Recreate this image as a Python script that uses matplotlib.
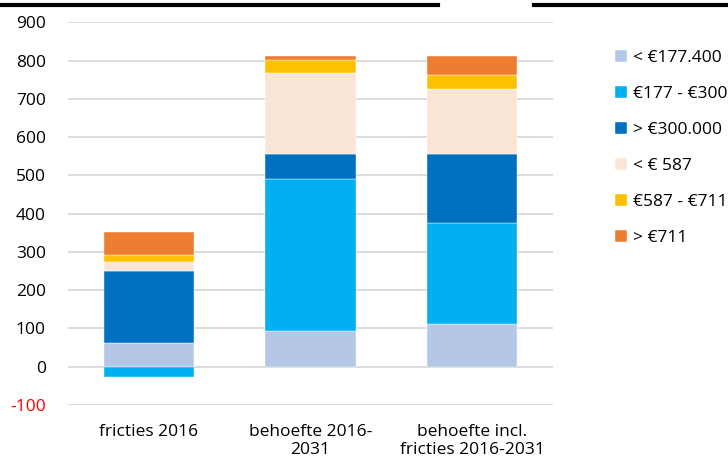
import matplotlib.pyplot as plt
from matplotlib.lines import Line2D
import numpy as np

plt.rcParams['font.family'] = ['Open Sans', 'DejaVu Sans']

categories = ['fricties 2016', 'behoefte 2016-\n2031', 'behoefte incl.\nfricties 2016-2031']
series_names = ['< €177.400', '€177 - €300', '> €300.000', '< € 587', '€587 - €711', '> €711']
lichtblauw = [63, 93, 112]
cyaan = [-26, 397, 263]
donkerblauw = [188, 65, 182]
perzik = [22, 213, 168]
geel = [20, 34, 37]
oranje = [59, 10, 50]
colors = ['#B4C7E7', '#00B0F0', '#0070C0', '#FBE5D6', '#FFC000', '#ED7D31']
yticks = [-100, 0, 100, 200, 300, 400, 500, 600, 700, 800, 900]

fig = plt.figure(figsize=(7.28, 4.62), dpi=100)
ax = fig.add_axes([68 / 728, 1 - 405 / 462, 485 / 728, (405 - 22.3) / 462])

x = np.arange(len(categories))
pos_bottom = np.zeros(len(categories))
neg_bottom = np.zeros(len(categories))
for name, vals, c in zip(series_names,
                         [lichtblauw, cyaan, donkerblauw, perzik, geel, oranje], colors):
    vals = np.array(vals, dtype=float)
    bottom = np.where(vals >= 0, pos_bottom, neg_bottom)
    ax.bar(x, vals, width=0.557, bottom=bottom, color=c, label=name, zorder=3,
           edgecolor='white', linewidth=0.3)
    pos_bottom += np.where(vals >= 0, vals, 0)
    neg_bottom += np.where(vals < 0, vals, 0)

ax.set_xlim(-0.5, 2.5)
ax.set_ylim(-100, 900)
ax.set_yticks(yticks)
ax.set_yticklabels([str(t) for t in yticks])
ax.set_xticks(x)
ax.set_xticklabels(categories, linespacing=1.1)
ax.tick_params(axis='both', length=0, labelsize=12.5, colors='#000000')
ax.tick_params(axis='x', pad=14)
ax.tick_params(axis='y', pad=16)
ax.get_yticklabels()[0].set_color('#FF0000')
for s in ax.spines.values():
    s.set_visible(False)
ax.grid(axis='y', color='#D9D9D9', linewidth=1.3, zorder=0)
ax.set_axisbelow(True)

leg = ax.legend(loc='upper left', bbox_to_anchor=(615 / 728, 1 - 50 / 462),
                bbox_transform=fig.transFigure, frameon=False, fontsize=12.5,
                handlelength=0.68, handleheight=0.68, handletextpad=0.38,
                labelspacing=1.145, borderaxespad=0, borderpad=0)

# zwarte randen bovenaan
fig.add_artist(Line2D([0, 438 / 728], [1 - 5 / 462] * 2, color='black', lw=3,
                      transform=fig.transFigure))
fig.add_artist(Line2D([534 / 728, 1], [1 - 5 / 462] * 2, color='black', lw=3,
                      transform=fig.transFigure))

fig.savefig('out.png', dpi=100)
